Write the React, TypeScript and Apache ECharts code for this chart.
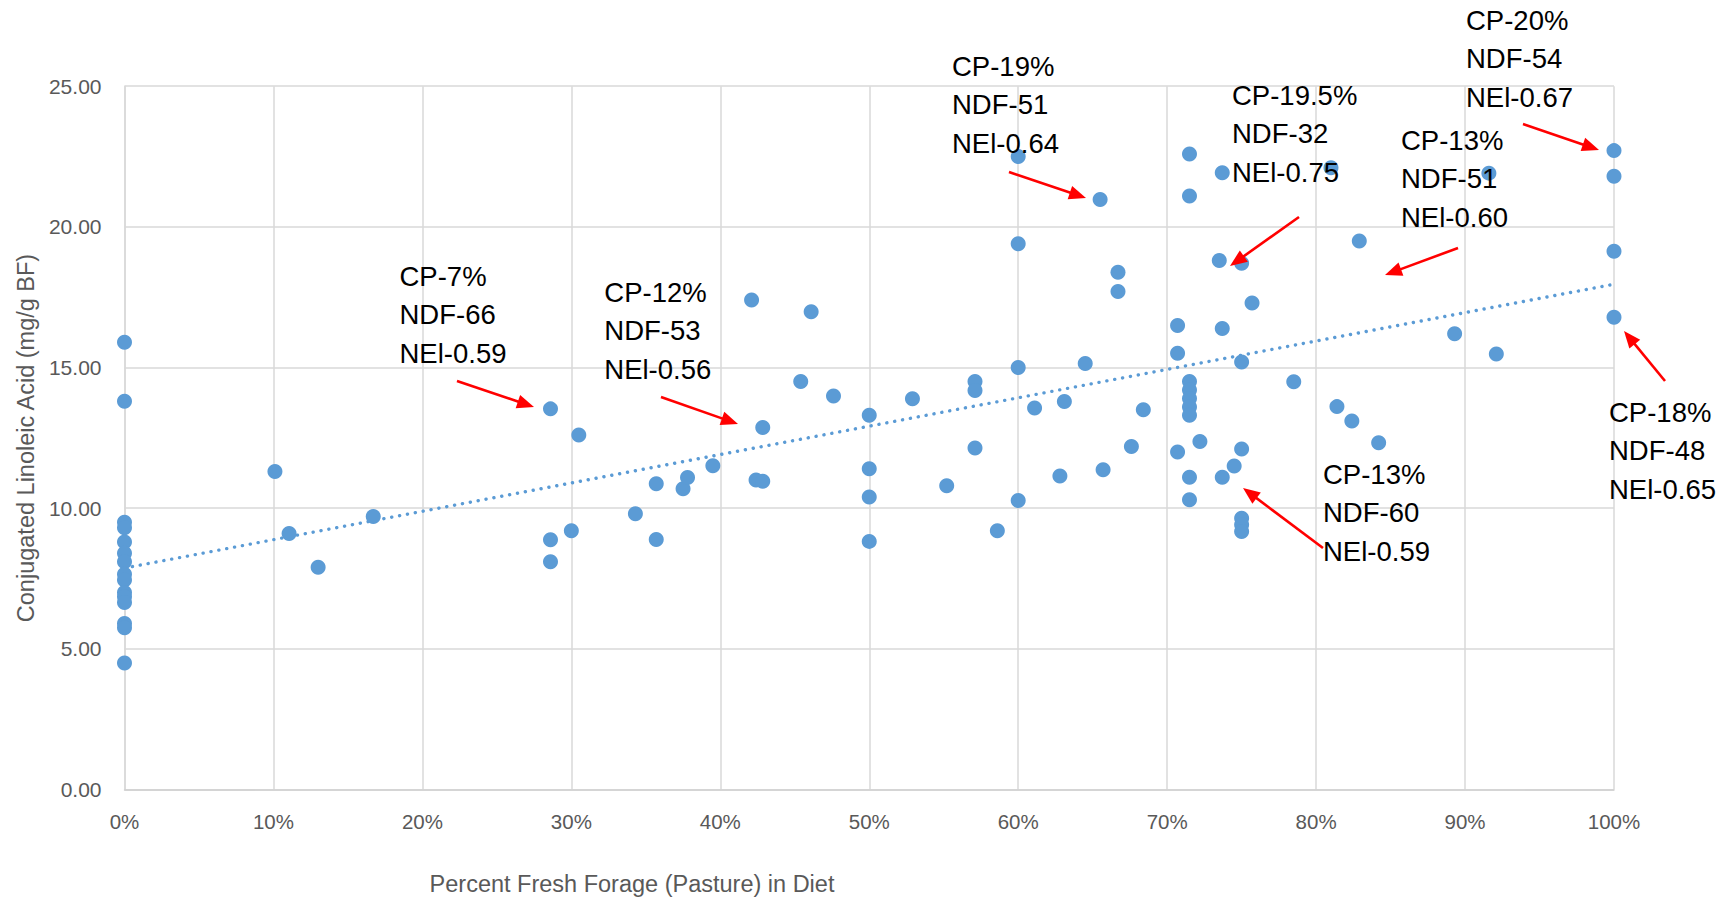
import React, { useEffect, useRef } from "react";
import * as echarts from "echarts";

// ---- Data ----
const pastureShare: number[] = [
  0, 0, 0, 0, 0, 0, 0, 0, 0, 0, 0, 0, 0, 0, 0,
  10.1, 11.05, 13.0, 16.7,
  28.6, 28.6, 28.6, 30.0, 30.5,
  34.3, 35.7, 35.7, 37.5, 37.8, 39.5,
  42.1, 42.4, 42.85, 42.85, 45.4, 46.1, 47.6,
  50, 50, 50, 50, 52.9, 55.2,
  57.1, 57.1, 57.1, 58.6,
  60, 60, 60, 60, 61.1, 62.8, 63.1, 64.5,
  65.5, 65.7, 66.7, 66.7, 67.6, 68.4,
  70.7, 70.7, 70.7,
  71.5, 71.5, 71.5, 71.5, 71.5, 71.5, 71.5, 71.5, 71.5,
  72.2, 73.5, 73.7, 73.7, 73.7, 74.5,
  75.0, 75.0, 75.0, 75.0, 75.0, 75.0, 75.7,
  78.5, 81.0, 81.4, 82.4, 82.9, 84.2,
  89.3, 91.6, 92.1,
  100, 100, 100, 100,
];
const claValues: number[] = [
  15.9, 13.8, 9.5, 9.3, 8.8, 8.4, 8.1, 7.65, 7.45, 7.0, 6.85, 6.65, 5.9, 5.75, 4.5,
  11.3, 9.1, 7.9, 9.7,
  13.53, 8.88, 8.1, 9.2, 12.6,
  9.8, 10.87, 8.89, 10.69, 11.09, 11.51,
  17.4, 11.0, 10.96, 12.87, 14.5, 16.98, 13.99,
  13.3, 11.4, 10.4, 8.82, 13.89, 10.8,
  14.5, 14.18, 12.14, 9.2,
  22.5, 19.4, 15.0, 10.27, 13.56, 11.14, 13.79, 15.14,
  20.97, 11.37, 18.39, 17.7, 12.19, 13.5,
  16.49, 15.51, 12.0,
  22.59, 21.1, 14.5, 14.2, 13.9, 13.6, 13.3, 11.1, 10.3,
  12.37, 18.8, 21.92, 16.39, 11.1, 11.5,
  18.71, 15.2, 12.1, 9.64, 9.41, 9.17, 17.29,
  14.49, 22.1, 13.61, 13.1, 19.5, 12.33,
  16.2, 21.91, 15.48,
  22.71, 21.8, 19.13, 16.79,
];
// Linear trendline end points
const trendX: number[] = [0, 100];
const trendY: number[] = [7.87, 17.96];

const xTicks: number[] = [0, 10, 20, 30, 40, 50, 60, 70, 80, 90, 100];
const yTicks: number[] = [0, 5, 10, 15, 20, 25];

const annotationTexts: string[] = [
  "CP-7%\nNDF-66\nNEl-0.59",
  "CP-12%\nNDF-53\nNEl-0.56",
  "CP-19%\nNDF-51\nNEl-0.64",
  "CP-19.5%\nNDF-32\nNEl-0.75",
  "CP-13%\nNDF-51\nNEl-0.60",
  "CP-20%\nNDF-54\nNEl-0.67",
  "CP-13%\nNDF-60\nNEl-0.59",
  "CP-18%\nNDF-48\nNEl-0.65",
];

const xTitle = "Percent Fresh Forage (Pasture) in Diet";
const yTitle = "Conjugated Linoleic Acid (mg/g BF)";

// ---- Layout (pixel positions of annotation texts and arrows) ----
const LINE_H = 38.5;
const annotationLayout = [
  { tx: 399.5, ty: 276, a: [457, 381, 534, 407] },
  { tx: 604.3, ty: 292, a: [661, 397, 738, 424] },
  { tx: 952, ty: 66, a: [1009, 172, 1086, 198] },
  { tx: 1232, ty: 95, a: [1299, 217, 1230, 266] },
  { tx: 1401, ty: 140, a: [1458, 248, 1385, 275] },
  { tx: 1466, ty: 20, a: [1523, 124, 1599, 150] },
  { tx: 1323, ty: 474, a: [1323, 548, 1243, 488] },
  { tx: 1609, ty: 412, a: [1665, 381, 1624, 331] },
];

const FONT = "'Liberation Sans', Arial, sans-serif";

function arrowElements(x1: number, y1: number, x2: number, y2: number) {
  const dx = x2 - x1;
  const dy = y2 - y1;
  const len = Math.sqrt(dx * dx + dy * dy);
  const ux = dx / len;
  const uy = dy / len;
  const px = -uy;
  const py = ux;
  const headLen = 17;
  const halfW = 7;
  const bx = x2 - ux * headLen;
  const by = y2 - uy * headLen;
  return [
    {
      type: "line",
      silent: true,
      shape: { x1, y1, x2: bx + ux * 3, y2: by + uy * 3 },
      style: { stroke: "#ff0000", lineWidth: 2.6 },
      z: 100,
    },
    {
      type: "polygon",
      silent: true,
      shape: {
        points: [
          [x2, y2],
          [bx + px * halfW, by + py * halfW],
          [bx - px * halfW, by - py * halfW],
        ],
      },
      style: { fill: "#ff0000" },
      z: 100,
    },
  ];
}

export default function App() {
  const ref = useRef<HTMLDivElement>(null);

  useEffect(() => {
    if (!ref.current) return;
    const chart = echarts.init(ref.current, undefined, { renderer: "svg" });

    const scatterData = pastureShare.map((x, i) => [x, claValues[i]]);
    const trendData = trendX.map((x, i) => [x, trendY[i]]);

    const graphics: any[] = [];
    annotationTexts.forEach((t, i) => {
      const l = annotationLayout[i];
      graphics.push({
        type: "text",
        silent: true,
        x: l.tx,
        y: l.ty - LINE_H / 2,
        z: 100,
        style: {
          text: t,
          fill: "#000000",
          font: `27.5px ${FONT}`,
          lineHeight: LINE_H,
          textAlign: "left",
          textVerticalAlign: "top",
        },
      });
      graphics.push(...arrowElements(l.a[0], l.a[1], l.a[2], l.a[3]));
    });
    graphics.push({
      type: "text",
      silent: true,
      x: 632,
      y: 884,
      style: {
        text: xTitle,
        fill: "#595959",
        font: `23.5px ${FONT}`,
        textAlign: "center",
        textVerticalAlign: "middle",
      },
    });
    graphics.push({
      type: "text",
      silent: true,
      x: 26,
      y: 438,
      rotation: Math.PI / 2,
      style: {
        text: yTitle,
        fill: "#595959",
        font: `23.5px ${FONT}`,
        textAlign: "center",
        textVerticalAlign: "middle",
      },
    });

    chart.setOption({
      animation: false,
      backgroundColor: "#ffffff",
      grid: {
        left: 124.5,
        right: 112,
        top: 86.2,
        bottom: 109.5,
        containLabel: false,
        outerBoundsMode: "none",
      },
      xAxis: {
        type: "value",
        min: xTicks[0],
        max: xTicks[xTicks.length - 1],
        interval: xTicks[1] - xTicks[0],
        axisLine: { show: true, lineStyle: { color: "#d0d0d0", width: 1.5 } },
        axisTick: { show: false },
        splitLine: { show: true, lineStyle: { color: "#d9d9d9", width: 1.5 } },
        axisLabel: {
          formatter: (v: number) => `${v}%`,
          color: "#595959",
          fontSize: 20.5,
          fontFamily: FONT,
          margin: 21,
        },
      },
      yAxis: {
        type: "value",
        min: yTicks[0],
        max: yTicks[yTicks.length - 1],
        interval: yTicks[1] - yTicks[0],
        axisLine: { show: true, lineStyle: { color: "#d9d9d9", width: 1.5 } },
        axisTick: { show: false },
        splitLine: { show: true, lineStyle: { color: "#d9d9d9", width: 1.5 } },
        axisLabel: {
          formatter: (v: number) => v.toFixed(2),
          color: "#595959",
          fontSize: 21,
          fontFamily: FONT,
          margin: 23,
        },
      },
      series: [
        {
          type: "line",
          data: trendData,
          showSymbol: false,
          silent: true,
          z: 1,
          lineStyle: {
            color: "#5b9bd5",
            width: 3.4,
            type: [0.1, 7.9],
            cap: "round",
          },
        },
        {
          type: "scatter",
          data: scatterData,
          symbol: "circle",
          symbolSize: 15,
          z: 2,
          itemStyle: { color: "#5b9bd5", opacity: 1 },
        },
      ],
      graphic: graphics,
    });

    return () => {
      chart.dispose();
    };
  }, []);

  return (
    <div
      ref={ref}
      style={{
        position: "fixed",
        left: 0,
        top: 0,
        width: 1726,
        height: 899,
        background: "#ffffff",
      }}
    />
  );
}
